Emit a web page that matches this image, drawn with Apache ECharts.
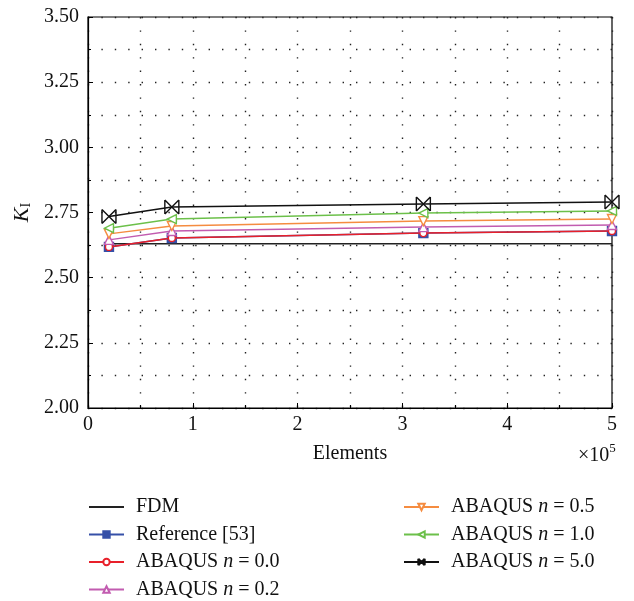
<!DOCTYPE html>
<html><head><meta charset="utf-8">
<script src="https://cdn.jsdelivr.net/npm/echarts@6/dist/echarts.min.js"></script>
<style>html,body{margin:0;padding:0;background:#fff}#c{width:634px;height:601px}</style>
</head><body><div id="c"></div>
<script>
const elements = [20000, 80000, 320000, 500000];
const fdmX = [20000, 500000];
const fdm = [2.63, 2.63];
const reference53 = [2.618, 2.652, 2.671, 2.679];
const abaqus00 = [2.618, 2.652, 2.671, 2.679];
const abaqus02 = [2.645, 2.679, 2.694, 2.702];
const abaqus05 = [2.668, 2.698, 2.717, 2.725];
const abaqus10 = [2.690, 2.725, 2.748, 2.756];
const abaqus50 = [2.735, 2.771, 2.783, 2.790];
const xTicks = ['0','1','2','3','4','5'];
const yTicks = ['2.00','2.25','2.50','2.75','3.00','3.25','3.50'];

const F = '"Liberation Serif","DejaVu Serif",serif';
const FS = 20;
const pair = (xs, ys) => xs.map((x, i) => [x, ys[i]]);
const xSymbol = 'path://M0,0L10,10M10,0L0,10M0,0L0,10M10,0L10,10';

function mk(name, xs, ys, color, symbol, size, filled, z) {
  return {
    name, type: 'line', data: pair(xs, ys), z: z,
    symbol: symbol, symbolSize: size, showSymbol: symbol !== 'none',
    lineStyle: { color, width: 1.5 },
    itemStyle: { color: filled ? color : '#fff', borderColor: color, borderWidth: 1.4 },
    emphasis: { disabled: true }, animation: false
  };
}

const series = [
  mk('FDM', fdmX, fdm, '#222', 'none', 0, true, 2),
  mk('Reference [53]', elements, reference53, '#3650a8', 'rect', 9, true, 3),
  mk('ABAQUS n = 0.0', elements, abaqus00, '#e8202a', 'circle', 7, false, 4),
  mk('ABAQUS n = 0.2', elements, abaqus02, '#c25cb0', 'triangle', 9, false, 4),
  mk('ABAQUS n = 0.5', elements, abaqus05, '#f58c40', 'path://M0,0L10,0L5,10Z', 9, false, 4),
  mk('ABAQUS n = 1.0', elements, abaqus10, '#6cc04a', 'path://M10,0L0,5L10,10Z', 9, false, 4),
  mk('ABAQUS n = 5.0', elements, abaqus50, '#111', xSymbol, 14, false, 5)
];
series[6].itemStyle = { color: 'none', borderColor: '#111', borderWidth: 1.4 };

const legText = {
  fontFamily: F, fontSize: FS, color: '#111', padding: [0, 0, 0, 7], lineHeight: 22,
  rich: {
    r: { fontFamily: F, fontSize: FS, color: '#111', lineHeight: 22 },
    i: { fontFamily: F, fontSize: FS, fontStyle: 'italic', color: '#111', lineHeight: 22 }
  }
};
const legFmt = name => {
  const m = name.match(/^ABAQUS n = (.*)$/);
  if (m) return '{r|ABAQUS }{i|n}{r| = ' + m[1] + '}';
  return '{r|' + name + '}';
};

const chart = echarts.init(document.getElementById('c'), null, { renderer: 'canvas' });
chart.setOption({
  animation: false,
  backgroundColor: '#fff',
  grid: { left: 88, right: 22, top: 17, bottom: 193, show: true, borderColor: '#000', borderWidth: 1.2, backgroundColor: 'transparent' },
  xAxis: {
    type: 'value', min: 0, max: 500000, interval: 100000,
    name: 'Elements', nameLocation: 'middle', nameGap: 36,
    nameTextStyle: { fontFamily: F, fontSize: FS, color: '#111' },
    axisLine: { lineStyle: { color: '#000', width: 1.2 } },
    axisTick: { inside: true, length: 5, lineStyle: { color: '#000' } },
    minorTick: { show: true, splitNumber: 2, length: 3, lineStyle: { color: '#000' } },
    axisLabel: { fontFamily: F, fontSize: FS, color: '#111', margin: 7, formatter: v => xTicks[Math.round(v / 100000)] },
    splitLine: { show: true, lineStyle: { color: '#222', width: 1.4, type: [1.4, 12] } },
    minorSplitLine: { show: true, lineStyle: { color: '#222', width: 1.4, type: [1.4, 12] } }
  },
  yAxis: {
    type: 'value', min: 2, max: 3.5, interval: 0.25,
    name: '{k|K}{s|I}', nameLocation: 'middle', nameGap: 48, nameRotate: 90,
    nameTextStyle: {
      rich: {
        k: { fontFamily: F, fontSize: 22, fontStyle: 'italic', color: '#111', lineHeight: 26, verticalAlign: 'bottom' },
        s: { fontFamily: F, fontSize: 14, color: '#111', lineHeight: 26, verticalAlign: 'bottom', padding: [8, 0, 0, 0] }
      }
    },
    axisLine: { show: true, lineStyle: { color: '#000', width: 1.2 } },
    axisTick: { show: true, inside: true, length: 5, lineStyle: { color: '#000' } },
    minorTick: { show: true, splitNumber: 2, length: 3, lineStyle: { color: '#000' } },
    axisLabel: { fontFamily: F, fontSize: FS, color: '#111', margin: 9, formatter: v => yTicks[Math.round((v - 2) / 0.25)] },
    splitLine: { show: true, lineStyle: { color: '#222', width: 1.4, type: [1.4, 12] } },
    minorSplitLine: { show: true, lineStyle: { color: '#222', width: 1.4, type: [1.4, 12] } }
  },
  legend: [
    { data: [{ name: 'FDM', itemStyle: { opacity: 0 } }, 'Reference [53]', 'ABAQUS n = 0.0', 'ABAQUS n = 0.2'],
      orient: 'vertical', left: 88, top: 496, padding: 0,
      itemWidth: 35, itemHeight: 8, itemGap: 5.5, textStyle: legText, formatter: legFmt, selectedMode: false },
    { data: ['ABAQUS n = 0.5', 'ABAQUS n = 1.0', 'ABAQUS n = 5.0'], orient: 'vertical', left: 403, top: 496, padding: 0,
      itemWidth: 35, itemHeight: 8, itemGap: 5.5, textStyle: legText, formatter: legFmt, selectedMode: false }
  ],
  graphic: [{
    type: 'text', left: 578, top: 442,
    style: { text: '{a|×10}{b|5}', rich: {
      a: { fontFamily: F, fontSize: FS, fill: '#111', lineHeight: 24, verticalAlign: 'bottom' },
      b: { fontFamily: F, fontSize: 13, fill: '#111', lineHeight: 24, verticalAlign: 'top', padding: [0, 0, 8, 0] }
    } }
  }],
  series
});
</script></body></html>
